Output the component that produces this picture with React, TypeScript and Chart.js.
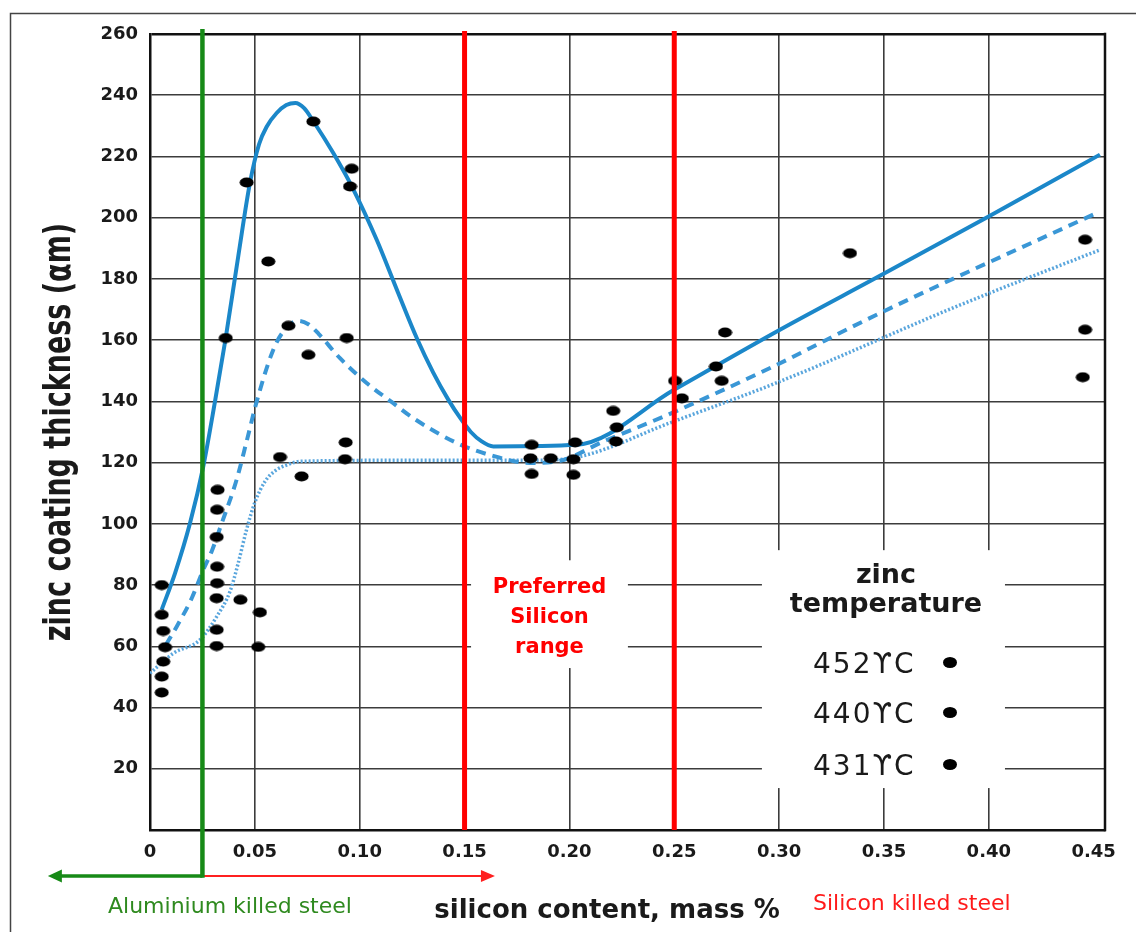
import React, { useEffect, useRef } from 'react';
import { Chart, registerables } from 'chart.js';

Chart.register(...registerables);

// ---- measured points (silicon content, mass %  /  zinc coating thickness) ----
const SI_CONTENT = [
  0.0056, 0.0056, 0.0063, 0.0072, 0.0063, 0.0056, 0.0056,
  0.0322, 0.032, 0.0318, 0.032, 0.032, 0.0318, 0.0318, 0.0318,
  0.0361, 0.0431, 0.0524, 0.0516, 0.0461, 0.0564, 0.062, 0.066, 0.0723, 0.0755, 0.0779,
  0.0938, 0.0933, 0.093, 0.0962, 0.0954,
  0.182, 0.1814, 0.182, 0.1911, 0.2027, 0.2019, 0.2019,
  0.2209, 0.2226, 0.2222, 0.2504, 0.2536, 0.2699, 0.2726, 0.2742,
  0.3338, 0.4459, 0.4459, 0.4448,
];
const THICKNESS = [
  80, 70.3, 65, 59.7, 55, 50.1, 44.9,
  111.1, 104.6, 95.7, 86, 80.6, 75.7, 65.4, 60.1,
  160.7, 75.2, 71.1, 59.8, 211.5, 185.7, 121.8, 164.7, 115.5, 155.2, 231.4,
  160.7, 126.6, 121.1, 216, 210.2,
  125.8, 121.4, 116.3, 121.4, 126.6, 121.1, 116,
  136.9, 131.5, 126.9, 146.7, 141, 151.4, 146.7, 162.5,
  188.4, 192.8, 163.4, 147.9,
];

// ---- trend curves ----
const CURVE_452_X = [0.0056, 0.012, 0.019, 0.0254, 0.031, 0.0361, 0.042, 0.0477, 0.052, 0.0557, 0.0604, 0.065, 0.0693, 0.0735, 0.0779, 0.0874, 0.097, 0.1081, 0.1183, 0.1272, 0.135, 0.1423, 0.148, 0.153, 0.158, 0.1637, 0.2035, 0.2499, 0.3004, 0.3505, 0.3999, 0.453];
const CURVE_452_Y = [72, 84, 100, 118.7, 140, 160.7, 187, 211.5, 224, 229.8, 234.2, 236.8, 237.5, 235.8, 231.5, 221.1, 209.2, 192.8, 175.5, 160.7, 149.5, 140.5, 134.5, 130, 127, 125.3, 125.8, 143.8, 163.4, 181.9, 200.4, 220.6];

const CURVE_440_X = [0.0076, 0.0127, 0.0199, 0.0254, 0.0294, 0.0342, 0.0413, 0.0461, 0.0509, 0.0588, 0.064, 0.0705, 0.0755, 0.0805, 0.0906, 0.1033, 0.116, 0.1256, 0.1463, 0.1621, 0.1812, 0.1955, 0.2162, 0.2448, 0.2957, 0.3465, 0.4507];
const CURVE_440_Y = [60.5, 66.4, 75.7, 85, 91, 100.2, 114.4, 127, 140, 156.9, 163.2, 166.3, 165.2, 162, 154.1, 146, 139.4, 134.5, 126.4, 122.5, 119.9, 120.6, 126.9, 135, 150.9, 168.3, 201.3];

const CURVE_431_X = [0, 0.0111, 0.0238, 0.0318, 0.0382, 0.042, 0.046, 0.05, 0.055, 0.06, 0.0655, 0.0715, 0.1192, 0.1812, 0.2051, 0.248, 0.3004, 0.3863, 0.453];
const CURVE_431_Y = [51.2, 57.7, 62.1, 69.7, 78, 87, 98, 107, 114, 117.5, 119.3, 120.4, 120.75, 120.75, 122, 133, 146.5, 171.5, 189.5];

// ---- axes / annotations ----
const X_MAX = 0.4554;
const X_STEP = 0.05;
const Y_MAX = 260;
const Y_STEP = 20;
const AL_LIMIT = 0.025;
const PREFERRED_RANGE = [0.15, 0.25];
const AL_ARROW_END = -0.0487;
const SI_ARROW_END = 0.1645;
const LEGEND_TITLE = ['zinc', 'temperature'];
const LEGEND_LABELS = ['452ϒC', '440ϒC', '431ϒC'];
const PREFERRED_LABEL = ['Preferred', 'Silicon', 'range'];

const FONT = '"DejaVu Sans", sans-serif';

const annotationPlugin = {
  id: 'annotations',
  beforeDatasetsDraw(chart: any) {
    const { ctx, chartArea, scales } = chart;
    const x = scales.x;
    const y = scales.y;
    ctx.save();
    // white label boxes that interrupt the grid
    ctx.fillStyle = '#ffffff';
    const box = (x0: number, x1: number, y0: number, y1: number) => {
      const px0 = x.getPixelForValue(x0);
      const px1 = x.getPixelForValue(x1);
      const py0 = y.getPixelForValue(y0);
      const py1 = y.getPixelForValue(y1);
      ctx.fillRect(px0, py0, px1 - px0, py1 - py0);
    };
    box(0.1531, 0.2279, 88.1, 52.9);
    box(0.2918, 0.4077, 91.4, 13.7);
    // right border of plot
    ctx.strokeStyle = '#111';
    ctx.lineWidth = 2.5;
    ctx.beginPath();
    ctx.moveTo(chartArea.right, chartArea.top - 1.25);
    ctx.lineTo(chartArea.right, chartArea.bottom + 1.25);
    ctx.stroke();
    ctx.restore();
  },
  afterDatasetsDraw(chart: any) {
    const { ctx, chartArea, scales } = chart;
    const x = scales.x;
    ctx.save();
    // preferred range lines
    ctx.strokeStyle = '#ff0000';
    ctx.lineWidth = 5;
    PREFERRED_RANGE.forEach((v) => {
      const px = x.getPixelForValue(v);
      ctx.beginPath();
      ctx.moveTo(px, chartArea.top - 3);
      ctx.lineTo(px, chartArea.bottom);
      ctx.stroke();
    });
    // aluminium / silicon boundary
    const gx = x.getPixelForValue(AL_LIMIT);
    const ay = 876;
    // red arrow (silicon killed)
    const rEnd = x.getPixelForValue(SI_ARROW_END);
    ctx.strokeStyle = '#ff2020';
    ctx.fillStyle = '#ff2020';
    ctx.lineWidth = 2.2;
    ctx.beginPath();
    ctx.moveTo(gx, ay);
    ctx.lineTo(rEnd - 12, ay);
    ctx.stroke();
    ctx.beginPath();
    ctx.moveTo(rEnd, ay);
    ctx.lineTo(rEnd - 14, ay - 6);
    ctx.lineTo(rEnd - 14, ay + 6);
    ctx.closePath();
    ctx.fill();
    // green line + arrow
    const gEnd = x.getPixelForValue(AL_ARROW_END);
    ctx.strokeStyle = '#178a17';
    ctx.fillStyle = '#178a17';
    ctx.lineWidth = 3.5;
    ctx.beginPath();
    ctx.moveTo(gEnd + 12, ay);
    ctx.lineTo(gx, ay);
    ctx.stroke();
    ctx.beginPath();
    ctx.moveTo(gEnd, ay);
    ctx.lineTo(gEnd + 14, ay - 6.5);
    ctx.lineTo(gEnd + 14, ay + 6.5);
    ctx.closePath();
    ctx.fill();
    ctx.lineWidth = 4.5;
    ctx.beginPath();
    ctx.moveTo(gx, chartArea.top - 5);
    ctx.lineTo(gx, ay + 1.7);
    ctx.stroke();
    ctx.restore();
  },
  afterDraw(chart: any) {
    const { ctx, chartArea, scales } = chart;
    const x = scales.x;
    ctx.save();
    // outer frame
    ctx.strokeStyle = '#444';
    ctx.lineWidth = 1.5;
    ctx.beginPath();
    ctx.moveTo(10.5, 932);
    ctx.lineTo(10.5, 13.5);
    ctx.lineTo(1136, 13.5);
    ctx.stroke();

    // y axis title
    ctx.save();
    ctx.translate(70, (chartArea.top + chartArea.bottom) / 2);
    ctx.rotate(-Math.PI / 2);
    ctx.scale(1, 1.35);
    ctx.fillStyle = '#1a1a1a';
    ctx.font = `bold 27px ${FONT}`;
    ctx.textAlign = 'center';
    ctx.textBaseline = 'alphabetic';
    ctx.fillText('zinc coating thickness (αm)', 0, 0);
    ctx.restore();

    // x axis title
    ctx.fillStyle = '#1a1a1a';
    ctx.font = `bold 26px ${FONT}`;
    ctx.textAlign = 'center';
    ctx.textBaseline = 'alphabetic';
    ctx.fillText('silicon content, mass %', 607, 918);

    // steel type labels
    ctx.font = `22px ${FONT}`;
    ctx.textAlign = 'left';
    ctx.fillStyle = '#2f8a1f';
    ctx.fillText('Aluminium killed steel', 108, 913);
    ctx.fillStyle = '#ff1a1a';
    ctx.fillText('Silicon killed steel', 813, 910);

    // preferred silicon range label
    ctx.fillStyle = '#ff0000';
    ctx.font = `bold 21px ${FONT}`;
    ctx.textAlign = 'center';
    const pcx = (x.getPixelForValue(0.1531) + x.getPixelForValue(0.2279)) / 2;
    PREFERRED_LABEL.forEach((t, i) => ctx.fillText(t, pcx, 593 + i * 30));

    // legend
    ctx.fillStyle = '#1a1a1a';
    ctx.font = `bold 27px ${FONT}`;
    ctx.fillText(LEGEND_TITLE[0], 886, 583);
    ctx.fillText(LEGEND_TITLE[1], 886, 612);
    ctx.font = `500 28px ${FONT}`;
    ctx.textAlign = 'left';
    try { (ctx as any).letterSpacing = '2px'; } catch (e) { /* ignore */ }
    const rows = [673, 723, 775];
    LEGEND_LABELS.forEach((t, i) => {
      ctx.fillStyle = '#1a1a1a';
      ctx.fillText(t, 813, rows[i]);
      ctx.fillStyle = '#000';
      ctx.beginPath();
      ctx.ellipse(950, rows[i] - 10.5, 7, 5.5, 0, 0, Math.PI * 2);
      ctx.fill();
    });
    ctx.restore();
  },
};

export default function App() {
  const canvasRef = useRef<HTMLCanvasElement | null>(null);

  useEffect(() => {
    const canvas = canvasRef.current;
    if (!canvas) return;

    const dot = document.createElement('canvas');
    dot.width = 15;
    dot.height = 11;
    const dctx = dot.getContext('2d')!;
    dctx.fillStyle = '#000';
    dctx.beginPath();
    dctx.ellipse(7.5, 5.5, 7, 5, 0, 0, Math.PI * 2);
    dctx.fill();

    const toXY = (xs: number[], ys: number[]) => xs.map((v, i) => ({ x: v, y: ys[i] }));
    const near = (a: number, b: number) => Math.abs(a - b) < 1e-6;

    const chart = new Chart(canvas, {
      type: 'scatter',
      data: {
        datasets: [
          {
            type: 'scatter',
            label: 'measurements',
            data: toXY(SI_CONTENT, THICKNESS),
            pointStyle: dot as any,
            pointRadius: 6,
            showLine: false,
          } as any,
          {
            type: 'line',
            label: '452ϒC',
            data: toXY(CURVE_452_X, CURVE_452_Y),
            borderColor: '#1b87c9',
            borderWidth: 4,
            pointRadius: 0,
            fill: false,
            cubicInterpolationMode: 'monotone',
          },
          {
            type: 'line',
            label: '440ϒC',
            data: toXY(CURVE_440_X, CURVE_440_Y),
            borderColor: '#3a97d6',
            borderWidth: 4,
            borderDash: [10, 7],
            pointRadius: 0,
            fill: false,
            cubicInterpolationMode: 'monotone',
          },
          {
            type: 'line',
            label: '431ϒC',
            data: toXY(CURVE_431_X, CURVE_431_Y),
            borderColor: '#5aa6dd',
            borderWidth: 3.5,
            borderDash: [2, 2],
            pointRadius: 0,
            fill: false,
            cubicInterpolationMode: 'monotone',
          },
        ],
      },
      options: {
        responsive: false,
        devicePixelRatio: 1,
        animation: false,
        layout: { padding: { top: 34, right: 31, left: 0, bottom: 0 } },
        plugins: {
          legend: { display: false },
          tooltip: { enabled: false },
          title: { display: false },
        },
        scales: {
          x: {
            type: 'linear',
            min: 0,
            max: X_MAX,
            afterFit: (s: any) => { s.height = 102; },
            ticks: {
              stepSize: X_STEP,
              includeBounds: false,
              padding: 12,
              color: '#1a1a1a',
              font: { family: FONT, size: 18, weight: 'bold' },
              maxRotation: 0,
              autoSkip: false,
              callback: (v: any) => (Number(v) === 0 ? '0' : Number(v).toFixed(2)),
            },
            grid: {
              drawTicks: false,
              color: (c: any) => (c.tick && near(c.tick.value, 0.45) ? 'rgba(0,0,0,0)' : '#3c3c3c'),
              lineWidth: 1.6,
            },
            border: { display: true, color: '#111', width: 2.5 },
          },
          y: {
            type: 'linear',
            min: 0,
            max: Y_MAX,
            afterFit: (s: any) => { s.width = 150; },
            ticks: {
              stepSize: Y_STEP,
              padding: 12,
              color: '#1a1a1a',
              font: { family: FONT, size: 18, weight: 'bold' },
              callback: (v: any) => (Number(v) === 0 ? '' : String(v)),
            },
            grid: {
              drawTicks: false,
              color: (c: any) => (c.tick && c.tick.value === Y_MAX ? '#111' : '#3c3c3c'),
              lineWidth: (c: any) => (c.tick && c.tick.value === Y_MAX ? 2.5 : 1.6),
            },
            border: { display: true, color: '#111', width: 2.5 },
          },
        },
      } as any,
      plugins: [annotationPlugin],
    });

    return () => chart.destroy();
  }, []);

  return (
    <div style={{ position: 'absolute', left: 0, top: 0, width: 1136, height: 932, background: '#fff' }}>
      <canvas ref={canvasRef} width={1136} height={932} style={{ display: 'block' }} />
    </div>
  );
}
